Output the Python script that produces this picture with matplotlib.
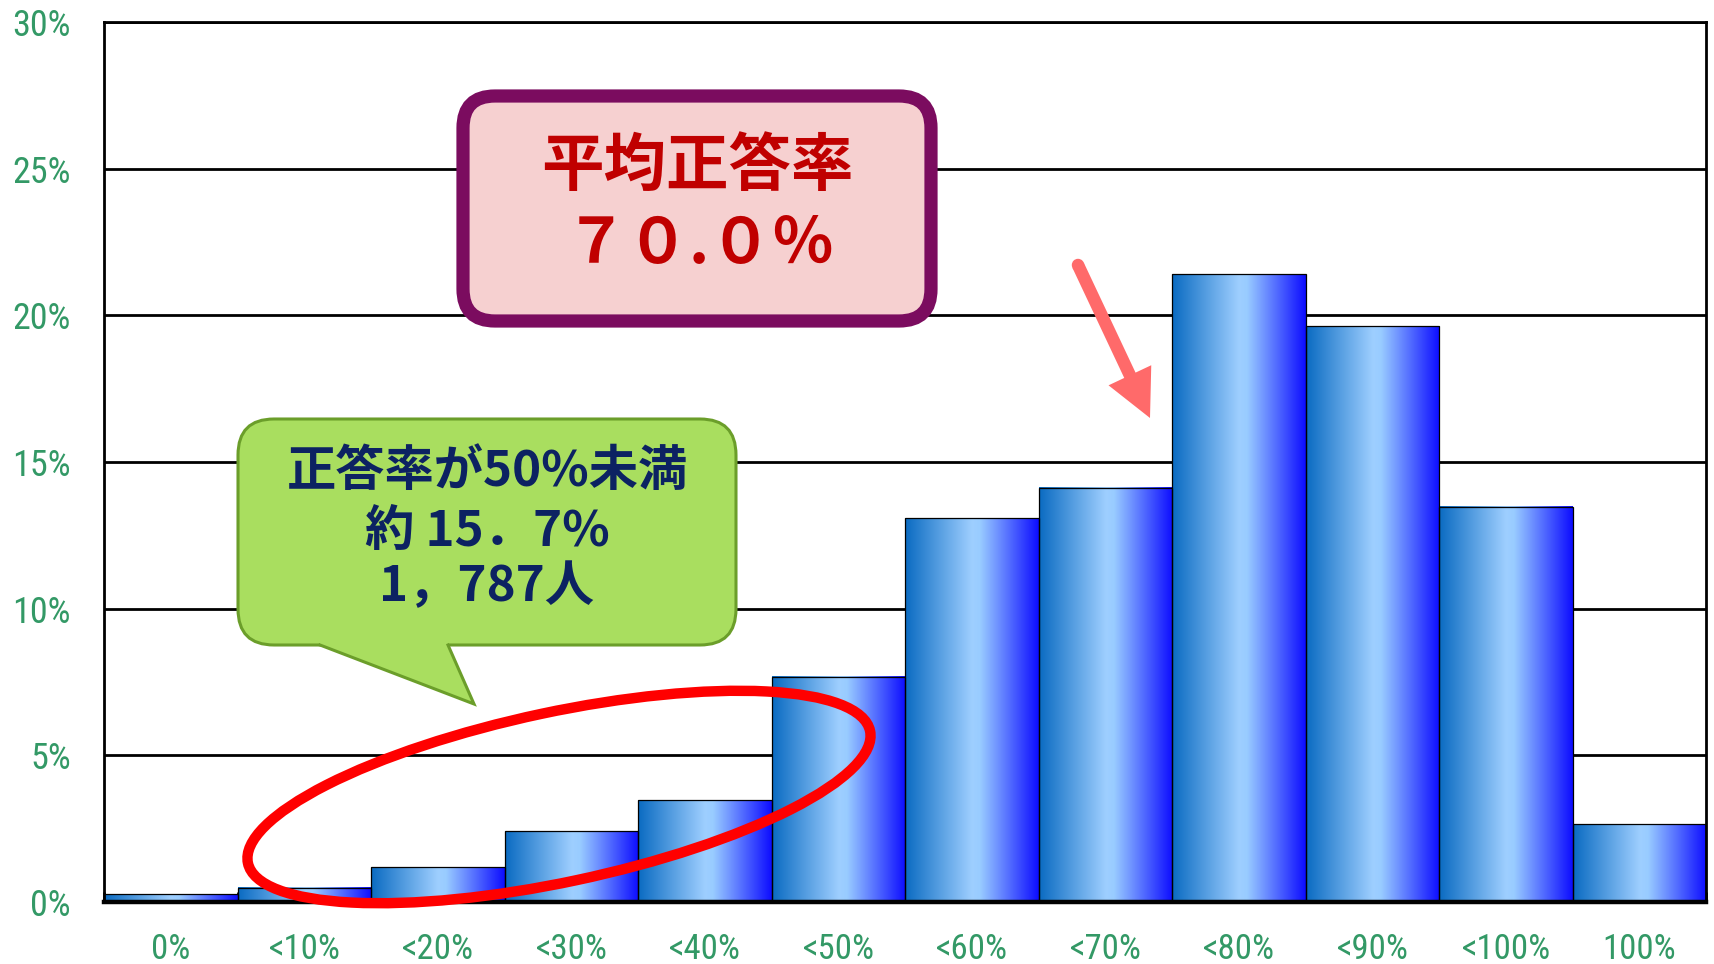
import numpy as np
import matplotlib
matplotlib.use('Agg')
import matplotlib.pyplot as plt
from matplotlib import font_manager as fm
from matplotlib.patches import FancyBboxPatch, Ellipse, Polygon, FancyArrowPatch, Circle
from matplotlib.colors import LinearSegmentedColormap

# ---------------- data ----------------
categories = ['0%', '<10%', '<20%', '<30%', '<40%', '<50%', '<60%',
              '<70%', '<80%', '<90%', '<100%', '100%']
shares = [0.26, 0.48, 1.19, 2.42, 3.47, 7.68, 13.08, 14.12, 21.40, 19.62, 13.48, 2.65]
y_ticks = [0, 5, 10, 15, 20, 25, 30]
y_tick_labels = ['0%', '5%', '10%', '15%', '20%', '25%', '30%']

avg_title = '平均正答率'
avg_value = '７０.０％'
callout_lines = ['正答率が50%未満', '約 15．7%', '1，787人']

# ---------------- fonts ----------------
def pick_label_font():
    names = {f.name for f in fm.fontManager.ttflist}
    for cand in ['Roboto Condensed', 'Liberation Sans Narrow', 'Open Sans Condensed']:
        if cand in names:
            return {'fontfamily': cand}
    for f in fm.fontManager.ttflist:
        if f.name == 'DejaVu Sans' and f.stretch == 'condensed':
            return {'fontfamily': 'DejaVu Sans', 'fontstretch': 'condensed'}
    return {'fontfamily': 'Liberation Sans'}

label_kw = pick_label_font()
cjk = ['Noto Sans CJK JP', 'DejaVu Sans']
plt.rcParams['font.family'] = cjk

W, H = 1714, 964
fig = plt.figure(figsize=(W / 100, H / 100), dpi=100)
fig.patch.set_facecolor('white')

ax_l, ax_r, ax_t, ax_b = 104, 1706, 22, 902
ax = fig.add_axes([ax_l / W, 1 - ax_b / H, (ax_r - ax_l) / W, (ax_b - ax_t) / H])

# ---------------- bars with gradient ----------------
grad_cmap = LinearSegmentedColormap.from_list(
    'bargrad',
    [(0.0, (0.04, 0.42, 0.76)),
     (0.50, (0.62, 0.81, 1.0)),
     (0.56, (0.60, 0.80, 1.0)),
     (1.0, (0.05, 0.05, 1.0))])
grad = np.linspace(0, 1, 256).reshape(1, -1)

x = np.arange(len(categories))
bars = ax.bar(x, shares, width=1.0, color='none', edgecolor='black',
              linewidth=0.9, zorder=3)
for b in bars:
    x0, w, h = b.get_x(), b.get_width(), b.get_height()
    ax.imshow(grad, cmap=grad_cmap, extent=[x0, x0 + w, 0, h],
              aspect='auto', zorder=2, interpolation='bilinear')

ax.set_xlim(-0.5, len(categories) - 0.5)
ax.set_ylim(0, 30)
ax.set_yticks(y_ticks)
ax.set_yticklabels(y_tick_labels, color='#339966', fontsize=26, **label_kw)
ax.set_xticks(x)
ax.set_xticklabels(categories, color='#339966', fontsize=25, **label_kw)
ax.set_xticks(np.arange(-0.5, len(categories), 1), minor=True)

ax.set_axisbelow(True)
ax.yaxis.grid(True, color='black', linewidth=2.0)
for s in ['left', 'right', 'top']:
    ax.spines[s].set_color('black')
    ax.spines[s].set_linewidth(2.0)
ax.spines['bottom'].set_linewidth(3.2)
ax.spines['bottom'].set_zorder(4)

ax.tick_params(axis='y', length=0, pad=24)
ax.tick_params(axis='x', which='major', length=0, pad=22)
ax.tick_params(axis='x', which='minor', direction='in', length=7, width=2.0,
               color='black')

# ---------------- overlay (pixel coordinates) ----------------
ov = fig.add_axes([0, 0, 1, 1], zorder=10)
ov.set_xlim(0, W)
ov.set_ylim(H, 0)
ov.axis('off')
ov.patch.set_alpha(0)

# pink average box
pink = FancyBboxPatch((463, 96), 468, 225,
                      boxstyle='round,pad=0,rounding_size=32',
                      facecolor='#f6d0d0', edgecolor='#7b0c5f', linewidth=9.5)
ov.add_patch(pink)
ov.text(697, 166, avg_title, ha='center', va='center', fontsize=45,
        fontweight='bold', color='#c00000', family=cjk)
ov.text(700, 244, avg_value, ha='center', va='center', fontsize=45,
        fontweight='bold', color='#c00000', family=cjk)

# green callout
gx0, gy0, gx1, gy1 = 238, 419, 736, 645
green_face = '#a9de5f'
green_edge = '#6b9e2a'
gbox = FancyBboxPatch((gx0, gy0), gx1 - gx0, gy1 - gy0,
                      boxstyle='round,pad=0,rounding_size=36',
                      facecolor=green_face, edgecolor=green_edge, linewidth=2.2)
ov.add_patch(gbox)
tail_l, tail_r, tip = (320, gy1), (448, gy1), (474, 704)
ov.add_patch(Polygon([tail_l, (tail_l[0], gy1 - 5), (tail_r[0], gy1 - 5), tail_r, tip],
                     closed=True, facecolor=green_face, edgecolor='none'))
ov.plot([tail_l[0], tip[0], tail_r[0]], [tail_l[1], tip[1], tail_r[1]],
        color=green_edge, linewidth=2.2, solid_joinstyle='miter')
for txt, yy in zip(callout_lines, [472, 532, 587]):
    ov.text(487, yy, txt, ha='center', va='center', fontsize=35.5,
            fontweight='bold', color='#0c2262', family=cjk)

# red ellipse
ov.add_patch(Ellipse((559, 797), 636, 170, angle=-12, fill=False,
                     edgecolor='#ff0000', linewidth=7.5))

# arrow
arrow_col = '#ff6a6a'
ov.add_patch(FancyArrowPatch((1078, 265), (1150, 418),
                             arrowstyle='simple,head_length=34,head_width=34,tail_width=9',
                             mutation_scale=1, color=arrow_col, linewidth=0,
                             shrinkA=0, shrinkB=0))
ov.add_patch(Circle((1078, 265), 6.2, color=arrow_col, linewidth=0))

fig.savefig('out.png', dpi=100)
